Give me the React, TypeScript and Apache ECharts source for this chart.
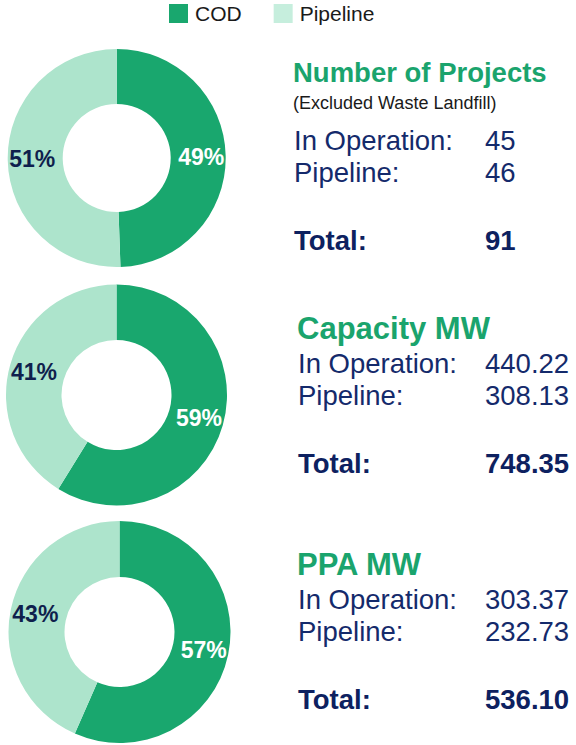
import React, { useEffect, useRef } from "react";
import * as echarts from "echarts";

const categories = ["COD", "Pipeline"];
const metricTitles = ["Number of Projects", "Capacity MW", "PPA MW"];
const metricNotes = ["(Excluded Waste Landfill)", "", ""];
const codValues = [45, 440.22, 303.37];
const pipelineValues = [46, 308.13, 232.73];
const valueDecimals = [0, 2, 2];
const rowLabels = ["In Operation:", "Pipeline:", "Total:"];

const FONT = "Liberation Sans, Arial, Helvetica, sans-serif";
const GREEN = "#19a76e";
const LIGHT = "#ade4cc";
const LEGEND_LIGHT = "#c6eedd";
const TITLE_GREEN = "#1aa46d";
const NAVY = "#142a6b";
const NAVY_BOLD = "#0d2160";
const LABEL_DARK = "#0f1f4d";

// layout (positions only)
const pieCenters: [number, number][] = [
  [116.7, 158],
  [116.5, 395],
  [119.5, 632],
];
const pieRadii: [number, number][] = [
  [54, 109],
  [55, 110.5],
  [55, 111],
];
const blockLayout = [
  { x: 293, title: 72.1, titleSize: 27.5, note: 103, rows: [140.4, 172.1, 240.4] },
  { x: 297, title: 328.4, titleSize: 31, note: 0, rows: [363.7, 395.4, 463.7] },
  { x: 297, title: 564.4, titleSize: 31, note: 0, rows: [599.7, 631.4, 699.7] },
];
const VALUE_X = 485;
const BODY_SIZE = 27.5;

export default function App() {
  const ref = useRef<HTMLDivElement>(null);

  useEffect(() => {
    if (!ref.current) return;
    const chart = echarts.init(ref.current, null, { renderer: "svg" });

    const series = metricTitles.map((t, i) => ({
      type: "pie" as const,
      name: t,
      center: pieCenters[i],
      radius: pieRadii[i],
      startAngle: 90,
      clockwise: true,
      percentPrecision: 0,
      silent: true,
      avoidLabelOverlap: false,
      label: {
        show: true,
        position: "inside",
        formatter: "{d}%",
        fontFamily: FONT,
        fontWeight: "bold",
        fontSize: 23,
      },
      labelLine: { show: false },
      emphasis: { disabled: true },
      itemStyle: { borderWidth: 0 },
      data: [
        {
          name: categories[0],
          value: codValues[i],
          itemStyle: { color: GREEN },
          label: { color: "#ffffff" },
        },
        {
          name: categories[1],
          value: pipelineValues[i],
          itemStyle: { color: LIGHT },
          label: { color: LABEL_DARK },
        },
      ],
    }));

    const graphics: any[] = [];
    metricTitles.forEach((title, i) => {
      const b = blockLayout[i];
      const dec = valueDecimals[i];
      const total = codValues[i] + pipelineValues[i];
      const vals = [codValues[i].toFixed(dec), pipelineValues[i].toFixed(dec), total.toFixed(dec)];
      graphics.push({
        type: "text",
        x: b.x,
        y: b.title,
        style: {
          text: title,
          fill: TITLE_GREEN,
          font: `bold ${b.titleSize}px ${FONT}`,
          verticalAlign: "middle",
        },
      });
      if (metricNotes[i]) {
        graphics.push({
          type: "text",
          x: b.x,
          y: b.note,
          style: {
            text: metricNotes[i],
            fill: "#1a1a1a",
            font: `18px ${FONT}`,
            verticalAlign: "middle",
          },
        });
      }
      rowLabels.forEach((lab, r) => {
        const bold = r === 2;
        graphics.push({
          type: "text",
          x: b.x + 1,
          y: b.rows[r],
          style: {
            text: lab,
            fill: bold ? NAVY_BOLD : NAVY,
            font: `${bold ? "bold " : ""}${BODY_SIZE}px ${FONT}`,
            verticalAlign: "middle",
          },
        });
        graphics.push({
          type: "text",
          x: VALUE_X,
          y: b.rows[r],
          style: {
            text: vals[r],
            fill: bold ? NAVY_BOLD : NAVY,
            font: `${bold ? "bold " : ""}${BODY_SIZE}px ${FONT}`,
            verticalAlign: "middle",
          },
        });
      });
    });

    chart.setOption({
      animation: false,
      legend: {
        show: true,
        left: 169,
        top: 3,
        padding: 0,
        itemWidth: 19,
        itemHeight: 19,
        itemGap: 32,
        icon: "rect",
        selectedMode: false,
        textStyle: { fontFamily: FONT, fontSize: 21, color: "#1a1a1a", padding: [0, 0, 0, 2] },
        data: [
          { name: categories[0], itemStyle: { color: GREEN } },
          { name: categories[1], itemStyle: { color: LEGEND_LIGHT } },
        ],
      },
      series,
      graphic: graphics,
    });

    return () => chart.dispose();
  }, []);

  return (
    <div
      ref={ref}
      style={{ position: "absolute", left: 0, top: 0, width: 576, height: 745, background: "#ffffff" }}
    />
  );
}
